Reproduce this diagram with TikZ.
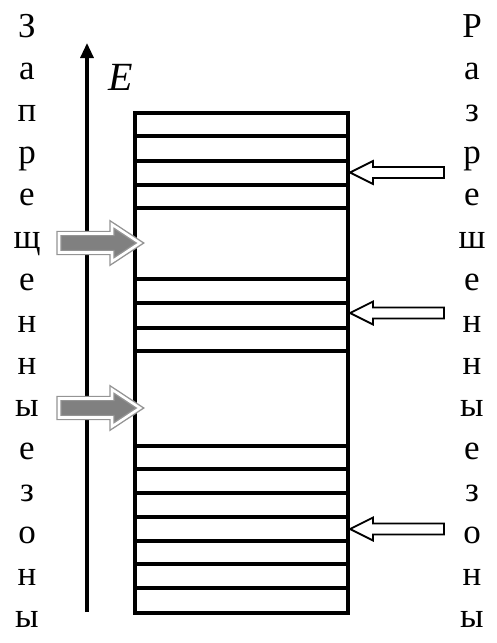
\documentclass[tikz,border=0pt]{standalone}
\usepackage{fontspec}
\setmainfont{Liberation Serif}
\usetikzlibrary{arrows.meta}

\tikzset{
  letter/.style={anchor=base, inner sep=0pt, font=\fontsize{35}{40}\selectfont},
  bandline/.style={line width=3.4pt, line cap=rect},
  axisline/.style={line width=3.2pt, -{Triangle[length=15pt, width=13pt]}},
  gapmark/.style={fill=black!50, draw=black!42, double=white, double distance=2.6pt,
                  line width=1.4pt, line join=miter},
  bandmark/.style={fill=white, draw=black, line width=1.8pt, line join=miter}
}

\begin{document}
\begin{tikzpicture}[x=1pt, y=-1pt]
  \useasboundingbox (0,0) rectangle (497,643);

  % energy axis
  \coordinate (axisfoot) at (87,612);
  \coordinate (axishead) at (87,43);
  \draw[axisline] (axisfoot) -- (axishead);
  \node[font=\fontsize{40}{44}\selectfont\itshape, inner sep=0pt] (elabel) at (121,77) {E};

  % level scheme: frame and energy levels
  \coordinate (tl) at (135,113);
  \coordinate (br) at (348,613);
  \draw[bandline] (tl) rectangle (br);
  \foreach \y in {136,161,185,208,279,303,328,351,446,469,493,517,541,564,588}
    \draw[bandline] (135,\y) -- (348,\y);

  % pointers to the gaps between bands
  \foreach \y [count=\k] in {243,408} {
    \coordinate (gap\k) at (140,\y);
    \path[gapmark, shift={(gap\k)}]
      (-81,-9.5) -- (-28,-9.5) -- (-28,-18.5) -- (0,0) -- (-28,18.5) -- (-28,9.5)
      -- (-81,9.5) -- cycle;
  }

  % pointers to the allowed bands
  \foreach \y [count=\k] in {172.5,313,529} {
    \coordinate (band\k) at (350,\y);
    \path[bandmark, shift={(band\k)}]
      (0,0) -- (23,-11.5) -- (23,-5.5) -- (94,-5.5) -- (94,5.5) -- (23,5.5)
      -- (23,11.5) -- cycle;
  }

  % vertical captions
  \foreach \ch [count=\i] in {З,а,п,р,е,щ,е,н,н,ы,е,з,о,н,ы}
    \node[letter] (left\i) at (27,{37+42.2*(\i-1)}) {\ch};
  \foreach \ch [count=\i] in {Р,а,з,р,е,ш,е,н,н,ы,е,з,о,н,ы}
    \node[letter] (right\i) at (472,{37+42.2*(\i-1)}) {\ch};
\end{tikzpicture}
\end{document}
